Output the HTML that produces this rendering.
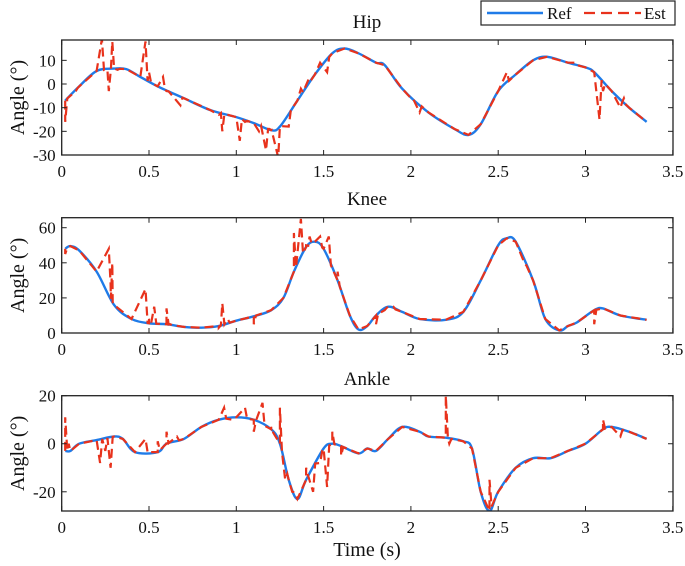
<!DOCTYPE html>
<html><head><meta charset="utf-8"><style>
html,body{margin:0;padding:0;background:#fff;width:685px;height:566px;overflow:hidden}
svg{font-family:"Liberation Serif",serif}
</style></head><body>
<svg id="fig" width="685" height="566" viewBox="0 0 685 566" xmlns="http://www.w3.org/2000/svg"></svg>
<script>
const xTicks=[0,0.5,1,1.5,2,2.5,3,3.5];
const xTickLabels=["0","0.5","1","1.5","2","2.5","3","3.5"];
const hipRefT=[0.02,0.1,0.2,0.3,0.37,0.45,0.55,0.7,0.85,1.0,1.1,1.2,1.25,1.35,1.45,1.55,1.62,1.7,1.8,1.85,1.95,2.1,2.25,2.33,2.4,2.5,2.6,2.7,2.78,2.9,3.0,3.05,3.15,3.25,3.35];
const hipRefV=[-7,-1,5.5,6.5,6.3,3,-1,-6,-11,-14,-16.5,-19.5,-18,-7,4,13,15,13,9,8,-2,-12,-19,-21.5,-17,-3,4,10,11.5,9,7,5,-3,-10,-16];
const hipSpikeT=[0.02,0.08,0.23,0.25,0.27,0.29,0.32,0.48,0.5,0.58,0.6,0.68,0.9,0.92,1.02,1.05,1.13,1.17,1.19,1.24,1.3,1.37,1.42,1.48,1.52,2.0,2.05,2.55,2.95,3.08,3.1,3.2,3.22,3.3];
const hipSpikeV=[-16,-3,19,6,-3,18,6,18,5,3,-3,-9,-13,-20,-24,-16,-20,-28,-19,-31,-18,-2,3,9,5,-6,-12,5,9,-15,-3,-10,-6,-13];
const kneeRefT=[0.02,0.05,0.1,0.2,0.3,0.4,0.5,0.6,0.7,0.8,0.9,1.0,1.1,1.2,1.27,1.33,1.4,1.45,1.5,1.58,1.65,1.7,1.75,1.8,1.87,1.95,2.05,2.2,2.3,2.4,2.5,2.55,2.6,2.7,2.77,2.85,2.9,2.95,3.05,3.1,3.2,3.35];
const kneeRefV=[48,49.5,47,35,16,8,5.5,5,3.5,3,4,7,9.5,13,20,35,49,52,48,30,10,2,4,10,15,12,8,7.5,12,30,50,54,52,30,8,1.5,4,6,13,14,10,7.5];
const kneeSpikeT=[0.02,0.27,0.28,0.29,0.48,0.5,0.53,0.6,0.62,0.9,0.92,0.95,1.1,1.33,1.37,1.4,1.42,1.48,1.53,1.58,1.8,1.85,1.9,2.65,3.05,3.1];
const kneeSpikeV=[45,48,28,40,25,8,15,14,5,3,17,8,5,57,65,50,55,55,55,35,5,13,15,40,5,14];
const ankRefT=[0.02,0.05,0.1,0.2,0.3,0.35,0.42,0.55,0.6,0.7,0.8,0.9,1.0,1.1,1.2,1.25,1.3,1.35,1.4,1.5,1.55,1.6,1.7,1.75,1.8,1.87,1.95,2.05,2.1,2.2,2.3,2.35,2.4,2.45,2.5,2.6,2.7,2.8,2.9,3.0,3.1,3.15,3.25,3.35];
const ankRefV=[-3,-3,0,1.5,3,2,-3.5,-3.5,0,2,7,10,11,10,6,0,-15,-23,-15,-2,0,-1,-4,-2,-3,2,7,5,3,2.5,1,-2,-20,-28,-20,-10,-6,-6,-3,0,6,7,5,2];
const ankSpikeT=[0.02,0.04,0.22,0.25,0.28,0.48,0.5,0.55,0.6,0.66,0.93,0.98,1.05,1.1,1.15,1.2,1.25,1.28,1.32,1.4,1.44,1.48,1.52,1.55,1.6,2.2,2.22,2.45,2.55,3.1,3.2];
const ankSpikeV=[11,0,-8,-3,-10,2,-3,1,5,3,15,10,15,5,17,7,15,-15,-20,-10,-20,-8,-18,5,-5,20,0,-15,-15,10,3];

const NS="http://www.w3.org/2000/svg";
const svg=document.getElementById('fig');
const X0=61.7,XS=174.6,XR=673;
function sx(t){return X0+t*XS;}
function mk(tag,attrs,parent){const e=document.createElementNS(NS,tag);for(const k in attrs)e.setAttribute(k,attrs[k]);(parent||svg).appendChild(e);return e;}
function smoothPath(pts){let d="M"+pts[0][0].toFixed(1)+","+pts[0][1].toFixed(1);
 for(let i=0;i<pts.length-1;i++){const p0=pts[Math.max(0,i-1)],p1=pts[i],p2=pts[i+1],p3=pts[Math.min(pts.length-1,i+2)];
  const c1=[p1[0]+(p2[0]-p0[0])/6,p1[1]+(p2[1]-p0[1])/6],c2=[p2[0]-(p3[0]-p1[0])/6,p2[1]-(p3[1]-p1[1])/6];
  d+=" C"+c1.map(v=>v.toFixed(1))+" "+c2.map(v=>v.toFixed(1))+" "+p2.map(v=>v.toFixed(1));}
 return d;}
function interp(T,V,t){if(t<=T[0])return V[0];for(let i=0;i<T.length-1;i++){if(t<=T[i+1]){const f=(t-T[i])/(T[i+1]-T[i]);return V[i]+f*(V[i+1]-V[i]);}}return V[V.length-1];}
function panel(cfg){
 const {name,top,bot,ymin,ymax,yTicks,refT,refV,spT,spV,title,titleY}=cfg;
 const g=mk('g',{});
 
 
 const sy=v=>bot-(v-ymin)/(ymax-ymin)*(bot-top);
 const cid='clip-'+name;
 const cp=mk('clipPath',{id:cid},g);mk('rect',{x:X0,y:top,width:XR-X0,height:bot-top},cp);
 // est
 let pts=refT.map((t,i)=>[t,refV[i]]);
 spT.forEach((t,i)=>{pts.push([t,spV[i]]);pts.push([t+0.012,interp(refT,refV,t+0.012)]);});
 pts.sort((a,b)=>a[0]-b[0]);
 const ref=mk('path',{d:smoothPath(refT.map((t,i)=>[sx(t),sy(refV[i])])),fill:'none',stroke:'#1f7be8','stroke-width':2.4,'clip-path':'url(#'+cid+')'},g);
 
 
 const est=mk('polyline',{points:pts.map(p=>sx(p[0]).toFixed(1)+","+sy(p[1]).toFixed(1)).join(" "),fill:'none',stroke:'#e8321c','stroke-width':2.2,'stroke-dasharray':'9,5','clip-path':'url(#'+cid+')'},g);
 
 
 // axes box
 const box=mk('rect',{x:X0,y:top,width:XR-X0,height:bot-top,fill:'none',stroke:'#222','stroke-width':1.3},g);
 
 
 xTicks.forEach((t,i)=>{const x=sx(t);
  mk('line',{x1:x,x2:x,y1:bot,y2:bot-5,stroke:'#222','stroke-width':1},g);
  mk('line',{x1:x,x2:x,y1:top,y2:top+5,stroke:'#222','stroke-width':1},g);
  const tx=mk('text',{x:x,y:bot+22,'font-size':17,'text-anchor':'middle',fill:'#111'},g);tx.textContent=xTickLabels[i];
  
  });
 yTicks.forEach(v=>{const y=sy(v);
  mk('line',{x1:X0,x2:X0+5,y1:y,y2:y,stroke:'#222','stroke-width':1},g);
  mk('line',{x1:XR,x2:XR-5,y1:y,y2:y,stroke:'#222','stroke-width':1},g);
  const tx=mk('text',{x:X0-6,y:y+6,'font-size':17,'text-anchor':'end',fill:'#111'},g);tx.textContent=String(v);
  
  });
 const tt=mk('text',{x:367,y:titleY,'font-size':19,'text-anchor':'middle',fill:'#111'},g);tt.textContent=title;
 
 
 const cy=(top+bot)/2;
 const yl=mk('text',{x:0,y:0,'font-size':20,'text-anchor':'middle',fill:'#111',transform:'translate(24,'+cy+') rotate(-90)'},g);yl.textContent='Angle (°)';
 
 
}
panel({name:'hip',top:40,bot:155,ymin:-30,ymax:18.6,yTicks:[10,0,-10,-20,-30],refT:hipRefT,refV:hipRefV,spT:hipSpikeT,spV:hipSpikeV,title:'Hip',titleY:28});
panel({name:'knee',top:217.7,bot:333,ymin:0,ymax:65.7,yTicks:[60,40,20,0],refT:kneeRefT,refV:kneeRefV,spT:kneeSpikeT,spV:kneeSpikeV,title:'Knee',titleY:205});
panel({name:'ankle',top:395.7,bot:511,ymin:-28,ymax:20,yTicks:[20,0,-20],refT:ankRefT,refV:ankRefV,spT:ankSpikeT,spV:ankSpikeV,title:'Ankle',titleY:385});
const xl=mk('text',{x:367,y:556,'font-size':20,'text-anchor':'middle',fill:'#111'});xl.textContent='Time (s)';


// legend
const lg=mk('g',{});


mk('rect',{x:481,y:1,width:194,height:24,fill:'#fff',stroke:'#222','stroke-width':1.2},lg);
mk('line',{x1:487,x2:543,y1:13,y2:13,stroke:'#1f7be8','stroke-width':2.4},lg);
const l1=mk('text',{x:547,y:19,'font-size':17,fill:'#111'},lg);l1.textContent='Ref';


mk('line',{x1:584,x2:641,y1:13,y2:13,stroke:'#e8321c','stroke-width':2.2,'stroke-dasharray':'11,6'},lg);
const l2=mk('text',{x:644,y:19,'font-size':17,fill:'#111'},lg);l2.textContent='Est';


</script>
</body></html>
